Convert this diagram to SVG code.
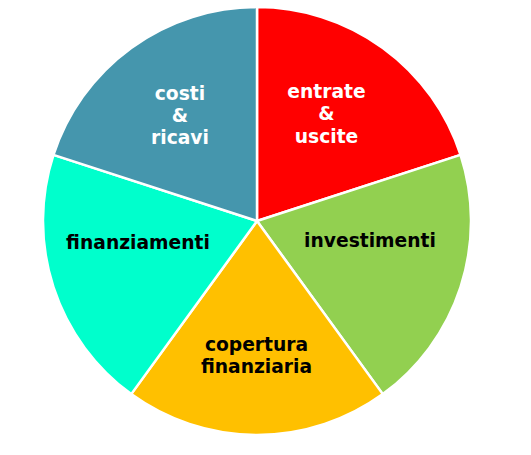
<svg xmlns="http://www.w3.org/2000/svg" width="531" height="455" viewBox="0 0 531 455">
<style>
.s{stroke:#fff;stroke-width:2.5;stroke-linejoin:round}
text{font-family:"DejaVu Sans",Verdana,sans-serif;font-weight:bold;font-size:18.7px;text-anchor:middle}
.w{fill:#fff}.k{fill:#000}
</style>
<rect width="531" height="455" fill="#fff"/>
<g id="entrate-uscite">
<path class="s" fill="#FF0000" d="M257,221 L257,7 A214,214 0 0 1 460.53,154.87 Z"/>
<text class="w" x="326.5" y="98">entrate</text>
<text class="w" x="326.5" y="120">&amp;</text>
<text class="w" x="326.5" y="142.5">uscite</text>
</g>
<g id="investimenti">
<path class="s" fill="#92D050" d="M257,221 L460.53,154.87 A214,214 0 0 1 382.79,394.13 Z"/>
<text class="k" x="370" y="246.5">investimenti</text>
</g>
<g id="copertura">
<path class="s" fill="#FFC000" d="M257,221 L382.79,394.13 A214,214 0 0 1 131.21,394.13 Z"/>
<text class="k" x="256.5" y="351">copertura</text>
<text class="k" x="256.5" y="372.5">finanziaria</text>
</g>
<g id="finanziamenti">
<path class="s" fill="#00FFCC" d="M257,221 L131.21,394.13 A214,214 0 0 1 53.47,154.87 Z"/>
<text class="k" x="138" y="248.5">finanziamenti</text>
</g>
<g id="costi-ricavi">
<path class="s" fill="#4596AD" d="M257,221 L53.47,154.87 A214,214 0 0 1 257,7 Z"/>
<text class="w" x="180" y="100">costi</text>
<text class="w" x="180" y="122">&amp;</text>
<text class="w" x="180" y="144">ricavi</text>
</g>
<g id="connectors"></g>
</svg>
